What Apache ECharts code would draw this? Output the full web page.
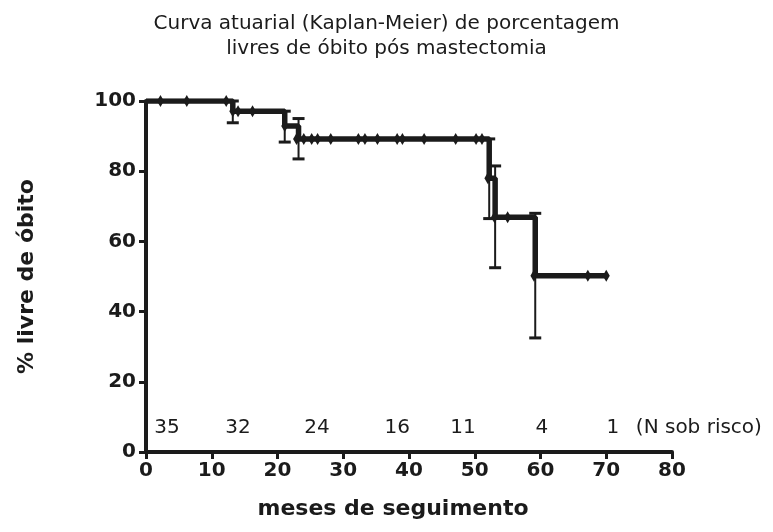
<!DOCTYPE html>
<html lang="pt">
<head>
<meta charset="UTF-8">
<title>Curva atuarial (Kaplan-Meier)</title>
<script src="https://cdn.jsdelivr.net/npm/echarts@6/dist/echarts.min.js"></script>
<style>
  html, body { margin: 0; padding: 0; background: #fff; }
  #main { width: 773px; height: 532px; }
</style>
</head>
<body>
<div id="main"></div>
<script>
// curva KM: tempos de evento e % livre de obito (degrau)
var kmTimes  = [0, 13.2, 21.1, 23.2, 52.2, 53.1, 59.2, 70];
var kmValues = [100, 97.1, 92.9, 89.2, 78.0, 66.9, 50.2, 50.2];

// barras de erro nos eventos
var errTimes = [13.2, 21.1, 23.2, 52.2, 53.1, 59.2];
var errLow   = [93.8, 88.3, 83.5, 66.5, 52.5, 32.5];
var errHigh  = [100, 97.1, 95.0, 89.2, 81.5, 68.0];

// marcas (censuras + eventos)
var markTimes  = [2.2, 6.2, 12.2, 13.2, 14.0, 16.2, 21.1, 22.9, 24.0, 25.2, 26.1, 28.1, 32.3, 33.3, 35.2,
                  38.2, 39.0, 42.3, 47.1, 50.2, 51.1, 52.0, 53.0, 55.0, 59.0, 67.2, 70];
var markValues = [100, 100, 100, 97.1, 97.1, 97.1, 92.9, 89.2, 89.2, 89.2, 89.2, 89.2, 89.2, 89.2, 89.2,
                  89.2, 89.2, 89.2, 89.2, 89.2, 89.2, 78.0, 66.9, 66.9, 50.2, 50.2, 50.2];

// N sob risco
var riskTimes  = [3.2, 14, 26, 38.2, 48.2, 60.2, 71];
var riskLabels = ['35', '32', '24', '16', '11', '4', '1'];
var riskNoteX  = 74.5;
var riskY = 7;

var ink = '#1b1b1b';

var chart = echarts.init(document.getElementById('main'));

var kmData = kmTimes.map(function (t, i) { return [t, kmValues[i]]; });
var errData = errTimes.map(function (t, i) { return [t, errLow[i], errHigh[i]]; });
var markData = markTimes.map(function (t, i) { return [t, markValues[i]]; });
var riskData = riskTimes.map(function (t, i) { return { value: [t, riskY], label: { formatter: riskLabels[i] } }; });

chart.setOption({
  backgroundColor: '#fff',
  animation: false,
  title: {
    text: 'Curva atuarial (Kaplan-Meier) de porcentagem\nlivres de óbito pós mastectomia',
    left: 'center',
    top: 6,
    textStyle: {
      fontFamily: 'DejaVu Sans',
      fontWeight: 'normal',
      fontSize: 20,
      lineHeight: 25,
      color: ink
    }
  },
  grid: { left: 146, right: 101, top: 101, bottom: 80 },
  xAxis: {
    type: 'value',
    min: 0, max: 80, interval: 10,
    name: 'meses de seguimento',
    nameLocation: 'middle',
    nameGap: 46,
    nameTextStyle: {
      fontFamily: 'DejaVu Sans', fontWeight: 'bold', fontSize: 22, color: ink,
      padding: [0, 32, 0, 0]
    },
    axisLine: { lineStyle: { color: ink, width: 4 } },
    axisTick: { length: 7, lineStyle: { color: ink, width: 3 } },
    splitLine: { show: false },
    axisLabel: { fontFamily: 'DejaVu Sans', fontWeight: 'bold', fontSize: 20, color: ink, margin: 9 }
  },
  yAxis: {
    type: 'value',
    min: 0, max: 100, interval: 20,
    name: '% livre de óbito',
    nameLocation: 'middle',
    nameGap: 108,
    nameTextStyle: { fontFamily: 'DejaVu Sans', fontWeight: 'bold', fontSize: 22, color: ink },
    axisLine: { show: true, lineStyle: { color: ink, width: 4 } },
    axisTick: { show: true, length: 7, lineStyle: { color: ink, width: 3 } },
    splitLine: { show: false },
    axisLabel: { fontFamily: 'DejaVu Sans', fontWeight: 'bold', fontSize: 20, color: ink, margin: 10 }
  },
  series: [
    {
      type: 'custom',
      z: 1,
      data: errData,
      encode: { x: 0, y: [1, 2] },
      renderItem: function (params, api) {
        var lo = api.coord([api.value(0), api.value(1)]);
        var hi = api.coord([api.value(0), api.value(2)]);
        var hw = 6;
        var st = { stroke: ink, lineWidth: 2 };
        var cap = { stroke: ink, lineWidth: 3 };
        return {
          type: 'group',
          children: [
            { type: 'line', shape: { x1: lo[0], y1: lo[1], x2: hi[0], y2: hi[1] }, style: st },
            { type: 'line', shape: { x1: lo[0] - hw, y1: lo[1], x2: lo[0] + hw, y2: lo[1] }, style: cap },
            { type: 'line', shape: { x1: hi[0] - hw, y1: hi[1], x2: hi[0] + hw, y2: hi[1] }, style: cap }
          ]
        };
      }
    },
    {
      type: 'line',
      z: 2,
      step: 'end',
      data: kmData,
      showSymbol: false,
      lineStyle: { color: ink, width: 5.5 }
    },
    {
      type: 'scatter',
      z: 3,
      data: markData,
      symbol: 'diamond',
      symbolSize: [7, 12],
      itemStyle: { color: ink, opacity: 1 }
    },
    {
      type: 'scatter',
      z: 4,
      clip: false,
      silent: true,
      data: riskData.concat([{ value: [riskNoteX, riskY], label: { formatter: '(N sob risco)', align: 'left' } }]),
      symbolSize: 0,
      itemStyle: { opacity: 1 },
      label: {
        show: true,
        position: 'inside',
        fontFamily: 'DejaVu Sans',
        fontSize: 20,
        color: ink,
        textBorderWidth: 0
      }
    }
  ]
});
</script>
</body>
</html>
